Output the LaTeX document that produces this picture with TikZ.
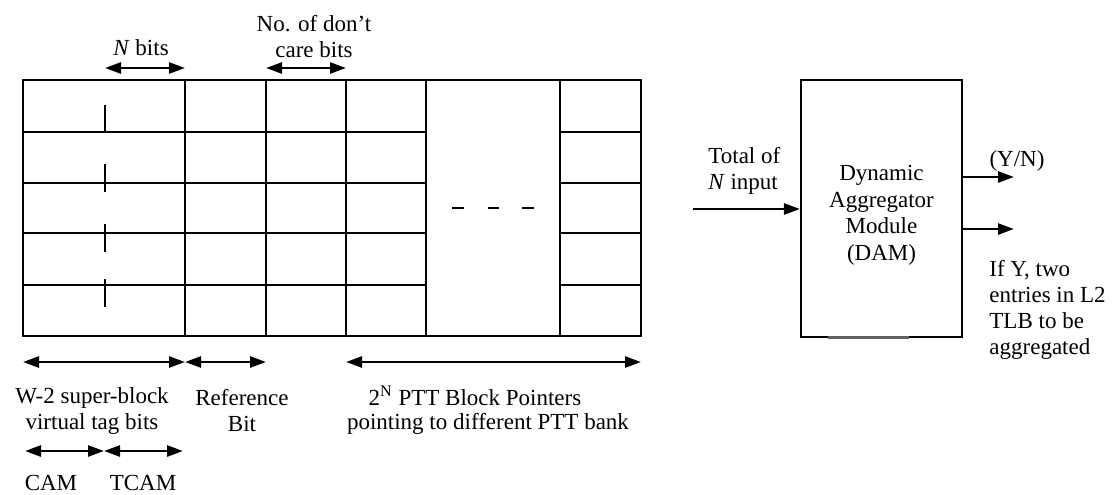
\documentclass[tikz,border=0pt]{standalone}
\usepackage{fontspec}
\setmainfont{Liberation Serif}
\usetikzlibrary{arrows.meta}

\begin{document}
\begin{tikzpicture}[x=0.5pt,y=-0.5pt,
  gridline/.style={line width=1pt},
  tickmark/.style={line width=1.1pt},
  tip/.tip={Triangle[length=8pt,width=5.5pt]},
  dimarrow/.style={line width=1.3pt, tip-tip},
  flowarrow/.style={line width=1.3pt, -tip},
  lbl/.style={font=\fontsize{11.5}{13}\selectfont, inner sep=0pt, align=center},
  lbll/.style={lbl, align=left},
  dambox/.style={draw, line width=1.1pt, minimum width=80.5pt, minimum height=128.5pt,
    inner sep=0pt}]
\useasboundingbox (0,0) rectangle (1112,494);

% ---- table of entries ----
\draw[gridline] (23,80) rectangle (641,336);
\foreach \x in {185,266,346,426,560}
  \draw[gridline] (\x,80) -- (\x,336);
\foreach \y in {132,183,233,285} {
  \draw[gridline] (23,\y) -- (426,\y);
  \draw[gridline] (560,\y) -- (641,\y);
}
% split marks inside the tag field
\draw[tickmark] (105,105) -- (105,132);
\draw[tickmark] (105,164) -- (105,192);
\draw[tickmark] (105,224) -- (105,252);
\draw[tickmark] (105,279) -- (105,307);
% omitted pointer columns
\draw[line width=1.3pt] (452,208) -- (464,208);
\draw[line width=1.3pt] (488,208) -- (499,208);
\draw[line width=1.3pt] (522,208) -- (534,208);

% ---- field widths above the table ----
\coordinate (nb1) at (105,68);
\coordinate (nb2) at (185,68);
\coordinate (dc1) at (266,68);
\coordinate (dc2) at (346,68);
\draw[dimarrow] (nb1) -- (nb2);
\draw[dimarrow] (dc1) -- (dc2);
\node[lbl] (nbits) at (141,48) {\textit{N} bits};
\node[lbl] (dcare) at (314,37) {No. of don't\\care bits};

% ---- field widths below the table ----
\coordinate (b0) at (23,362);
\coordinate (b1) at (185,362);
\coordinate (b2) at (266,362);
\coordinate (b3) at (346,362);
\coordinate (b4) at (641,362);
\draw[dimarrow] (b0) -- (b1);
\draw[dimarrow] (b1) -- (b2);
\draw[dimarrow] (b3) -- (b4);
\node[lbl] (tag) at (92,411) {W-2 super-block\\virtual tag bits};
\node[lbl] (refbit) at (242,411) {Reference\\Bit};
\node[lbl, anchor=base] (ptt1) at (475,405) {2\textsuperscript{N} PTT Block Pointers};
\node[lbl, anchor=base] (ptt2) at (488,429) {pointing to different PTT bank};

\coordinate (c0) at (25,451);
\coordinate (c1) at (104,451);
\coordinate (c2) at (183,451);
\draw[dimarrow] (c0) -- (c1);
\draw[dimarrow] (c1) -- (c2);
\node[lbl] (cam) at (51,483) {CAM};
\node[lbl] (tcam) at (143,483) {TCAM};

% ---- dynamic aggregator module ----
\node[dambox] (dam) at (881.5,208.5) {};
\node[lbl, font=\fontsize{11.5}{13.3}\selectfont] (damtext) at ([yshift=-3.5pt]dam.center)
  {Dynamic\\Aggregator\\Module\\(DAM)};
\draw[line width=1.5pt, black!62] (828,337) -- (909,337);

\coordinate (inp) at (693,209);
\draw[flowarrow] (inp) -- (dam.west |- inp);
\node[lbll, anchor=west] (total) at (708,171) {Total of\\\textit{N} input};

\coordinate (out1) at (1014,177);
\coordinate (out2) at (1014,229);
\draw[flowarrow] (dam.east |- out1) -- (out1);
\draw[flowarrow] (dam.east |- out2) -- (out2);
\node[lbl] (yn) at (1017,161) {(Y/N)};
\node[lbll, anchor=west] (ify) at (989,310) {If Y, two\\entries in L2\\TLB to be\\aggregated};
\end{tikzpicture}
\end{document}
